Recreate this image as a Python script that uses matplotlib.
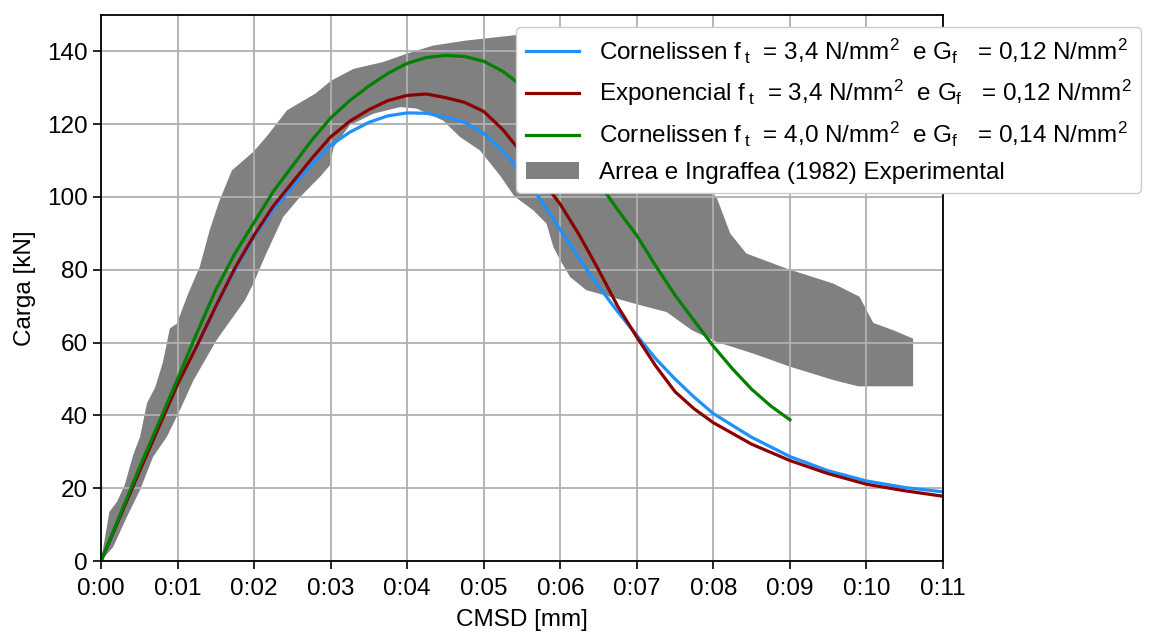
import matplotlib
matplotlib.use("Agg")
import matplotlib.pyplot as plt

plt.rcParams["font.family"] = ["Liberation Sans", "DejaVu Sans"]
plt.rcParams["mathtext.fontset"] = "custom"
plt.rcParams["mathtext.rm"] = "Liberation Sans"
plt.rcParams["mathtext.it"] = "Liberation Sans"

# CMSD [mm] / Carga [kN]
x_corn34 = [0, 0.005, 0.01, 0.0125, 0.015, 0.0175, 0.02, 0.0225, 0.025, 0.0275, 0.03, 0.0325,
            0.035, 0.0375, 0.04, 0.0425, 0.045, 0.0475, 0.05, 0.0525, 0.055, 0.0575, 0.06,
            0.0625, 0.065, 0.0675, 0.07, 0.0725, 0.075, 0.0775, 0.08, 0.085, 0.09, 0.095,
            0.10, 0.105, 0.11]
y_corn34 = [0, 24.5, 48.5, 59, 69.8, 80, 89, 96.5, 102.8, 108.8, 114.2, 117.8,
            120.5, 122.3, 123.1, 123, 122, 120.5, 117.5, 112.5, 106.5, 99, 91,
            83, 75.5, 68.5, 62, 55.5, 50, 45, 40.5, 34, 28.7, 24.8,
            22, 20.2, 19]

x_exp34 = [0, 0.005, 0.01, 0.0125, 0.015, 0.0175, 0.02, 0.0225, 0.025, 0.0275, 0.03, 0.0325,
           0.035, 0.0375, 0.04, 0.0425, 0.045, 0.0475, 0.05, 0.0525, 0.055, 0.0575, 0.06,
           0.0625, 0.065, 0.0675, 0.07, 0.0725, 0.075, 0.0775, 0.08, 0.085, 0.09, 0.095,
           0.10, 0.105, 0.11]
y_exp34 = [0, 24.5, 48.5, 59, 70, 80.5, 89.5, 97.5, 104, 110.5, 116.5, 120.8,
           124, 126.5, 127.9, 128.3, 127.3, 126, 123.5, 118.5, 112, 105, 98,
           89.5, 80, 70, 61.5, 53.5, 46.5, 41.8, 38, 32.1, 27.6, 24,
           21.1, 19.3, 17.8]

x_corn40 = [0, 0.005, 0.01, 0.0125, 0.015, 0.0175, 0.02, 0.0225, 0.025, 0.0275, 0.03, 0.0325,
            0.035, 0.0375, 0.04, 0.0425, 0.045, 0.0475, 0.05, 0.0525, 0.055, 0.0575, 0.06,
            0.0625, 0.065, 0.0675, 0.07, 0.0725, 0.075, 0.0775, 0.08, 0.0825, 0.085, 0.0875,
            0.09]
y_corn40 = [0, 25.5, 50, 62.5, 74.5, 84.5, 93, 101.5, 108.5, 115.5, 121.7, 126.5,
            130.5, 134, 136.7, 138.3, 138.9, 138.6, 137.3, 134.5, 130.5, 125, 118.5,
            111.5, 104, 96.5, 89.4, 81, 73, 66, 59, 52.8, 47.2, 42.6,
            38.8]

# envelope of the experimental results
band_upper_x = [0, 0.0011, 0.0021, 0.0031, 0.0042, 0.0051, 0.006, 0.0071, 0.0081, 0.009, 0.0099,
                0.0114, 0.0129, 0.0142, 0.0155, 0.0171, 0.0199, 0.0216, 0.0243, 0.028, 0.0301,
                0.033, 0.0369, 0.04, 0.0434, 0.0478, 0.0539, 0.057, 0.061, 0.066, 0.071,
                0.076, 0.0804, 0.0809, 0.0822, 0.0843, 0.0896, 0.0957, 0.0991, 0.1009, 0.1035,
                0.1061]
band_upper_y = [0, 13.5, 16.3, 20.9, 29.1, 34.1, 43.3, 47.8, 54.7, 63.9, 65.2,
                73.5, 80.8, 90.9, 99.1, 107.3, 112.4, 116.5, 123.8, 128.4, 132,
                135.2, 137.1, 139.4, 141.6, 143, 144.4, 145, 141, 132, 122,
                110, 100, 97.3, 90, 84.5, 80.3, 76.2, 72.6, 65.4, 63.4,
                61.1]
band_lower_x = [0, 0.0016, 0.0034, 0.0051, 0.0068, 0.0086, 0.0103, 0.0121, 0.0151, 0.0188,
                0.0199, 0.0216, 0.0238, 0.026, 0.0286, 0.0299, 0.0304, 0.0325, 0.0356, 0.0391,
                0.0412, 0.0447, 0.0469, 0.0495, 0.0521, 0.054, 0.0565, 0.0582, 0.0591, 0.06,
                0.0613, 0.0634, 0.0665, 0.0704, 0.0739, 0.0772, 0.0804, 0.0852, 0.09, 0.0957,
                0.0989, 0.1061]
band_lower_y = [0, 3.9, 12.2, 19.5, 28.6, 34.1, 41.4, 49.7, 60.7, 71.6,
                76.2, 84.5, 94.5, 100, 105.5, 108.7, 113.7, 119.7, 122.9, 124.7,
                124.3, 121, 116.5, 112.8, 106, 100.2, 96.3, 92.7, 86.3, 82.6,
                78, 74.4, 72.6, 70.3, 68.4, 63.4, 60.2, 57, 53.4, 49.7,
                48, 48]

xticks = [0, 0.01, 0.02, 0.03, 0.04, 0.05, 0.06, 0.07, 0.08, 0.09, 0.10, 0.11]
xtick_labels = ["0:00", "0:01", "0:02", "0:03", "0:04", "0:05", "0:06", "0:07",
                "0:08", "0:09", "0:10", "0:11"]
yticks = [0, 20, 40, 60, 80, 100, 120, 140]

labels = [
    r"Cornelissen $f\,_t$  = 3,4 N/mm$^2$  e $G_f$   = 0,12 N/mm$^2$",
    r"Exponencial $f\,_t$  = 3,4 N/mm$^2$  e $G_f$   = 0,12 N/mm$^2$",
    r"Cornelissen $f\,_t$  = 4,0 N/mm$^2$  e $G_f$   = 0,14 N/mm$^2$",
    "Arrea e Ingraffea (1982) Experimental",
]

fs = 17.5

fig = plt.figure(figsize=(11.73, 6.32), dpi=100)
ax = fig.add_axes([0.0861, 0.1123, 0.7178, 0.864])

ax.fill(band_upper_x + band_lower_x[::-1], band_upper_y + band_lower_y[::-1],
        color="#808080", lw=0, label=labels[3])
ax.plot(x_corn34, y_corn34, color="#1e90ff", lw=2.3, label=labels[0])
ax.plot(x_exp34, y_exp34, color="#8b0000", lw=2.3, label=labels[1])
ax.plot(x_corn40, y_corn40, color="#008000", lw=2.3, label=labels[2])

ax.set_xlim(0, 0.11)
ax.set_ylim(0, 150)
ax.set_xticks(xticks)
ax.set_xticklabels(xtick_labels)
ax.set_yticks(yticks)
ax.tick_params(labelsize=fs, length=6, width=1.2)
ax.tick_params(axis="x", pad=6)
ax.grid(True, color="#b0b0b0", lw=1.3)
for s in ax.spines.values():
    s.set_linewidth(1.3)
ax.set_xlabel("CMSD [mm]", fontsize=fs, labelpad=7)
ax.set_ylabel("Carga [kN]", fontsize=fs, labelpad=8)

h, l = ax.get_legend_handles_labels()
order = [1, 2, 3, 0]
ax.legend([h[i] for i in order], [l[i] for i in order], loc="upper left",
          bbox_to_anchor=(516 / 1173, 1 - 27 / 632), bbox_transform=fig.transFigure,
          borderaxespad=0, fontsize=fs, handlelength=2.2, handletextpad=0.8,
          labelspacing=0.5, framealpha=1.0)

fig.savefig("out.png", dpi=100)
